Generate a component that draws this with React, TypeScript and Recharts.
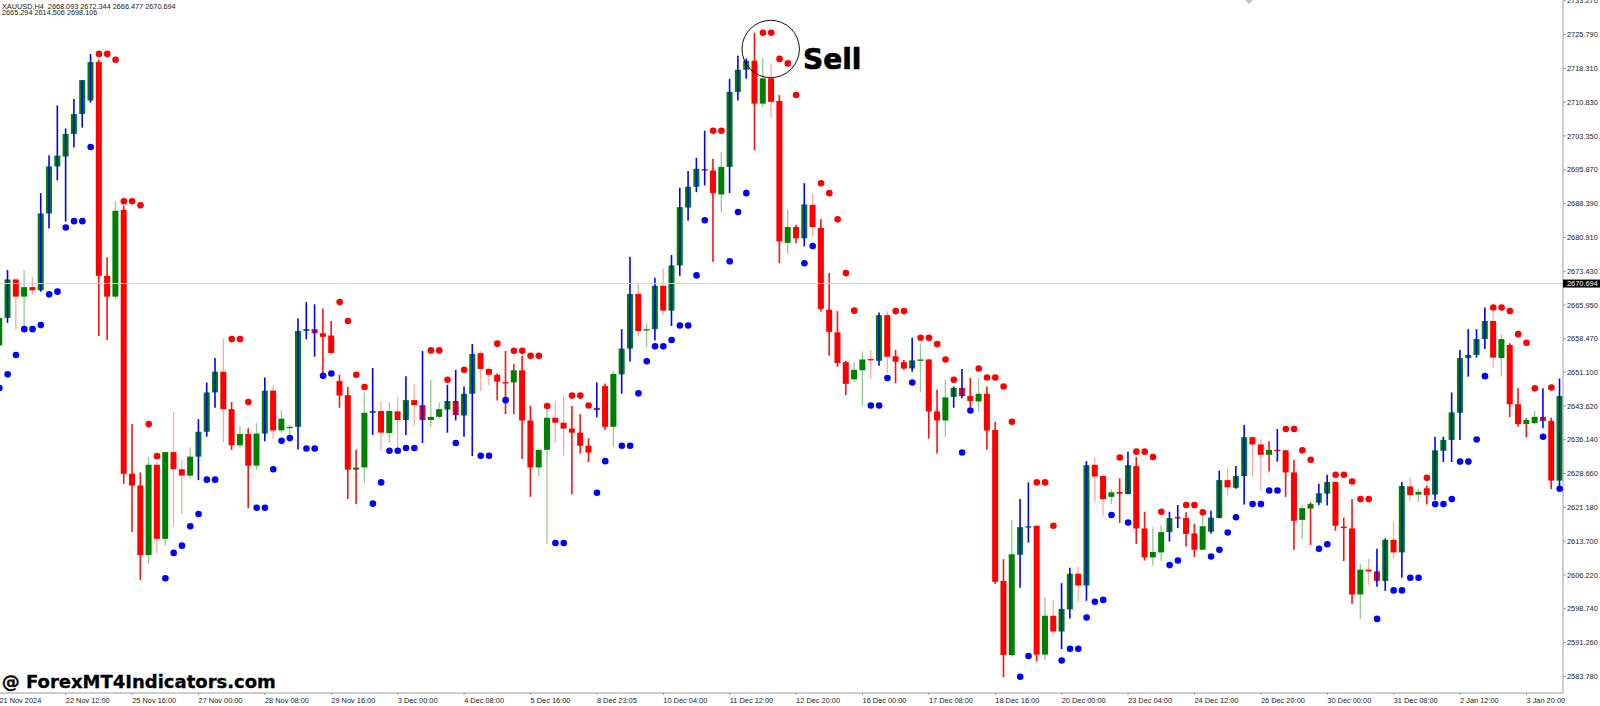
import { Bar, ComposedChart, Line, ReferenceLine, XAxis, YAxis } from 'recharts'

const _ = null

const opens = [
  2657.0, 2663.1, 2671.6, 2667.8, 2669.9, 2669.2, 2686.2, 2696.6, 2698.8, 2703.8,
  2708.2, 2711.2, 2719.7, 2672.4, 2667.8, 2687.0, 2628.6, 2626.0, 2610.6, 2630.6,
  2614.2, 2633.4, 2629.6, 2628.2, 2632.4, 2637.9, 2646.6, 2651.2, 2642.9, 2634.9,
  2637.4, 2630.4, 2637.5, 2647.0, 2638.2, 2638.8, 2639.0, 2660.2, 2660.6, 2659.7,
  2659.2, 2649.1, 2646.0, 2629.5, 2630.0, 2642.1, 2642.5, 2637.6, 2642.4, 2640.5,
  2644.9, 2643.8, 2640.5, 2641.2, 2642.8, 2644.7, 2641.5, 2646.3, 2655.3, 2651.8,
  2650.5, 2648.9, 2648.8, 2651.5, 2640.4, 2630.0, 2633.9, 2641.0, 2639.9, 2638.6,
  2637.7, 2634.8, 2643.2, 2648.0, 2639.0, 2650.6, 2656.3, 2668.4, 2660.3, 2660.6,
  2670.2, 2664.7, 2674.7, 2687.5, 2692.1, 2696.0, 2695.7, 2690.4, 2696.5, 2713.1,
  2718.0, 2720.0, 2710.5, 2716.1, 2711.1, 2679.7, 2683.2, 2680.7, 2688.1, 2683.0,
  2664.9, 2659.9, 2653.3, 2649.5, 2651.5, 2654.0, 2653.6, 2663.7, 2654.6, 2653.3,
  2651.9, 2653.7, 2653.9, 2642.4, 2640.4, 2645.6, 2647.6, 2645.8, 2644.6, 2646.3,
  2638.3, 2604.9, 2588.5, 2610.7, 2616.7, 2617.1, 2588.6, 2597.2, 2593.7, 2598.6,
  2606.5, 2603.9, 2630.6, 2628.1, 2623.5, 2624.6, 2624.1, 2630.3, 2616.5, 2610.1,
  2611.2, 2615.7, 2619.0, 2618.8, 2615.4, 2611.8, 2615.8, 2618.8, 2627.2, 2625.5,
  2628.1, 2636.7, 2635.1, 2632.8, 2633.9, 2633.8, 2628.9, 2618.4, 2620.9, 2622.2,
  2624.2, 2626.8, 2616.9, 2616.5, 2601.9, 2607.4, 2607.0, 2604.9, 2614.0, 2611.2,
  2625.8, 2624.0, 2625.4, 2624.0, 2633.7, 2636.1, 2642.1, 2654.2, 2654.9, 2658.4,
  2662.4, 2654.2, 2657.1, 2644.0, 2639.6, 2639.8, 2641.2, 2640.3, 2627.1,
]

const highs = [
  2664.9, 2673.7, 2671.9, 2673.7, 2672.1, 2690.7, 2699.1, 2710.1, 2705.0, 2711.5,
  2715.7, 2721.5, 2720.2, 2676.5, 2688.9, 2687.9, 2639.6, 2628.9, 2632.4, 2631.2,
  2633.5, 2642.2, 2631.6, 2634.4, 2640.7, 2648.8, 2654.2, 2658.4, 2644.5, 2639.2,
  2638.7, 2639.8, 2649.9, 2648.2, 2642.7, 2639.4, 2663.0, 2666.6, 2666.1, 2665.2,
  2662.4, 2650.5, 2647.8, 2633.9, 2646.6, 2652.0, 2644.7, 2644.4, 2645.6, 2650.2,
  2648.3, 2655.8, 2649.4, 2644.4, 2648.3, 2651.6, 2647.9, 2657.3, 2655.8, 2652.2,
  2650.8, 2655.8, 2652.9, 2654.7, 2643.6, 2633.9, 2642.7, 2644.7, 2645.8, 2643.6,
  2641.8, 2636.5, 2648.8, 2648.6, 2651.3, 2660.6, 2676.6, 2670.8, 2661.9, 2672.0,
  2674.0, 2677.0, 2691.9, 2695.6, 2698.5, 2704.5, 2698.3, 2699.8, 2716.0, 2721.1,
  2720.5, 2726.2, 2720.5, 2719.4, 2712.4, 2687.1, 2683.7, 2692.9, 2690.7, 2684.9,
  2673.0, 2664.6, 2653.6, 2653.3, 2655.7, 2656.0, 2664.3, 2664.5, 2656.0, 2653.8,
  2658.7, 2657.3, 2653.9, 2647.2, 2649.4, 2647.9, 2651.8, 2649.8, 2649.8, 2647.9,
  2640.1, 2609.7, 2618.4, 2623.0, 2626.7, 2617.1, 2601.3, 2600.7, 2604.4, 2607.8,
  2608.1, 2631.4, 2632.2, 2628.3, 2625.2, 2627.6, 2633.5, 2632.3, 2620.2, 2616.8,
  2617.3, 2620.2, 2621.7, 2620.1, 2617.5, 2619.9, 2620.4, 2629.3, 2629.8, 2630.3,
  2639.4, 2637.0, 2636.3, 2635.8, 2638.5, 2633.8, 2631.7, 2621.7, 2622.3, 2626.4,
  2628.4, 2626.8, 2618.9, 2623.0, 2608.7, 2609.8, 2612.0, 2614.3, 2618.0, 2626.8,
  2627.7, 2625.2, 2626.0, 2636.8, 2636.8, 2646.6, 2656.0, 2660.6, 2660.6, 2665.4,
  2664.5, 2659.5, 2657.5, 2647.5, 2640.9, 2642.5, 2647.5, 2641.0, 2649.7,
]

const lows = [
  2654.7, 2662.0, 2660.4, 2660.9, 2668.2, 2668.9, 2682.9, 2693.5, 2684.4, 2700.8,
  2705.2, 2710.7, 2659.1, 2658.2, 2667.2, 2626.4, 2615.8, 2605.1, 2608.7, 2611.0,
  2612.7, 2616.9, 2619.7, 2627.5, 2627.2, 2636.8, 2643.2, 2635.6, 2633.9, 2634.4,
  2621.0, 2629.5, 2635.8, 2636.3, 2637.7, 2636.8, 2634.0, 2658.4, 2654.5, 2650.3,
  2655.3, 2643.2, 2623.0, 2621.9, 2626.6, 2637.2, 2633.7, 2635.5, 2634.3, 2637.2,
  2639.3, 2635.4, 2639.0, 2640.8, 2637.7, 2640.4, 2636.8, 2632.5, 2646.9, 2648.2,
  2644.8, 2641.8, 2641.8, 2631.9, 2623.5, 2628.1, 2613.1, 2635.4, 2632.6, 2624.1,
  2633.1, 2631.2, 2641.1, 2638.3, 2634.6, 2646.3, 2653.4, 2658.9, 2656.7, 2658.1,
  2663.7, 2661.3, 2672.4, 2684.6, 2690.9, 2692.4, 2675.5, 2686.4, 2690.7, 2711.2,
  2716.0, 2700.2, 2709.7, 2707.3, 2675.2, 2677.4, 2679.6, 2678.9, 2681.1, 2664.5,
  2654.7, 2652.3, 2646.0, 2648.9, 2643.6, 2649.7, 2652.5, 2650.8, 2648.6, 2651.6,
  2651.2, 2646.6, 2636.4, 2633.1, 2636.8, 2643.2, 2645.3, 2643.3, 2642.3, 2633.9,
  2604.2, 2583.6, 2588.1, 2603.4, 2613.4, 2587.1, 2587.4, 2592.6, 2589.8, 2596.6,
  2600.2, 2600.5, 2622.3, 2619.4, 2621.9, 2617.7, 2624.1, 2613.1, 2609.4, 2608.3,
  2609.3, 2613.6, 2616.6, 2612.5, 2610.2, 2611.8, 2615.4, 2618.8, 2623.7, 2625.3,
  2621.8, 2628.0, 2624.8, 2629.1, 2631.3, 2623.5, 2611.8, 2614.2, 2612.8, 2621.7,
  2621.6, 2616.0, 2609.3, 2599.8, 2596.5, 2604.1, 2603.6, 2602.7, 2609.9, 2605.6,
  2622.4, 2622.4, 2621.8, 2622.8, 2631.2, 2631.2, 2636.1, 2650.1, 2654.3, 2656.2,
  2652.0, 2650.1, 2641.1, 2639.0, 2636.7, 2639.6, 2638.7, 2625.2, 2625.2,
]

const closes = [
  2663.1, 2671.6, 2667.8, 2669.9, 2669.2, 2686.2, 2696.6, 2699.0, 2703.8, 2708.2,
  2715.7, 2719.7, 2672.4, 2667.8, 2686.8, 2628.6, 2626.0, 2610.6, 2630.6, 2614.2,
  2633.4, 2629.6, 2628.2, 2632.4, 2637.9, 2646.6, 2651.2, 2642.9, 2634.9, 2637.4,
  2630.4, 2637.5, 2647.0, 2638.2, 2640.8, 2639.0, 2660.2, 2660.6, 2659.7, 2658.9,
  2655.3, 2645.9, 2629.5, 2630.0, 2642.1, 2642.5, 2637.7, 2642.5, 2640.5, 2644.9,
  2643.8, 2640.5, 2641.2, 2642.9, 2644.7, 2641.6, 2646.3, 2655.1, 2651.8, 2650.5,
  2649.0, 2648.7, 2651.5, 2640.4, 2630.0, 2633.9, 2641.0, 2639.9, 2638.6, 2637.7,
  2634.8, 2633.3, 2642.7, 2639.0, 2650.7, 2656.3, 2668.4, 2660.2, 2660.6, 2670.2,
  2664.7, 2674.7, 2687.6, 2692.1, 2696.1, 2695.7, 2690.7, 2696.5, 2713.1, 2718.0,
  2720.0, 2710.5, 2716.1, 2710.9, 2680.0, 2683.2, 2680.7, 2688.2, 2683.2, 2665.1,
  2660.0, 2653.1, 2648.5, 2651.6, 2653.9, 2653.8, 2663.7, 2654.5, 2653.4, 2651.9,
  2653.7, 2653.9, 2642.4, 2640.4, 2645.5, 2647.6, 2645.8, 2644.7, 2646.3, 2638.2,
  2604.7, 2588.5, 2610.8, 2616.8, 2617.0, 2588.6, 2597.2, 2593.7, 2598.7, 2606.5,
  2603.9, 2630.5, 2628.0, 2623.0, 2624.5, 2624.2, 2630.5, 2616.5, 2610.1, 2611.3,
  2615.7, 2618.8, 2618.7, 2615.3, 2611.8, 2617.0, 2618.9, 2627.2, 2625.6, 2628.1,
  2636.7, 2635.1, 2632.8, 2633.9, 2633.7, 2628.9, 2618.2, 2621.0, 2621.9, 2624.3,
  2626.8, 2617.1, 2616.6, 2601.9, 2607.4, 2607.0, 2604.9, 2614.0, 2611.2, 2625.9,
  2623.9, 2624.6, 2623.9, 2633.8, 2636.1, 2642.2, 2654.2, 2654.9, 2658.4, 2662.4,
  2654.3, 2658.4, 2644.0, 2639.6, 2640.5, 2641.2, 2640.3, 2627.1, 2645.8,
]

// wick colour per candle: b blue, g pale green, r red, p pale red
const wickKinds = [
  'b', 'b', 'p', 'g', 'p', 'b', 'b', 'b', 'b', 'b',
  'b', 'b', 'r', 'r', 'g', 'r', 'r', 'r', 'g', 'p',
  'g', 'p', 'p', 'g', 'b', 'b', 'b', 'p', 'r', 'g',
  'r', 'g', 'b', 'p', 'g', 'g', 'b', 'b', 'b', 'r',
  'r', 'r', 'r', 'r', 'g', 'b', 'p', 'g', 'p', 'b',
  'p', 'b', 'g', 'g', 'b', 'b', 'b', 'b', 'p', 'p',
  'r', 'r', 'r', 'r', 'r', 'g', 'g', 'p', 'p', 'r',
  'r', 'r', 'b', 'r', 'g', 'b', 'b', 'p', 'g', 'b',
  'p', 'b', 'b', 'b', 'b', 'b', 'r', 'g', 'b', 'b',
  'b', 'r', 'g', 'p', 'r', 'g', 'r', 'b', 'p', 'r',
  'r', 'r', 'r', 'g', 'g', 'p', 'b', 'p', 'r', 'r',
  'b', 'g', 'r', 'r', 'g', 'b', 'b', 'r', 'g', 'r',
  'r', 'r', 'g', 'b', 'b', 'r', 'g', 'p', 'b', 'b',
  'p', 'b', 'p', 'p', 'g', 'r', 'b', 'r', 'r', 'g',
  'g', 'b', 'b', 'r', 'r', 'g', 'b', 'b', 'p', 'b',
  'b', 'p', 'p', 'r', 'b', 'r', 'r', 'g', 'r', 'b',
  'b', 'r', 'r', 'r', 'g', 'p', 'b', 'b', 'p', 'b',
  'p', 'g', 'r', 'b', 'b', 'b', 'b', 'b', 'b', 'b',
  'p', 'g', 'r', 'r', 'r', 'g', 'b', 'r', 'b',
]

const blueDots = [
  2647.6, 2650.6, 2654.9, 2660.6, 2660.6, 2661.5, 2668.3, 2668.9, 2683.1, 2684.5,
  2684.5, 2700.9, _, _, _, _, _, _, _, _,
  2605.5, 2611.1, 2612.7, 2617.0, 2619.7, 2627.3, 2627.3, _, _, _,
  _, 2621.1, 2621.1, 2629.6, 2635.9, 2636.5, _, 2634.2, 2634.2, 2650.3,
  2650.8, _, _, _, _, 2622.0, 2626.7, 2633.7, 2633.7, 2634.3,
  2634.3, _, _, _, _, 2635.4, _, _, 2632.6, 2632.6,
  _, 2644.9, _, _, _, _, _, 2613.3, 2613.3, _,
  _, _, 2624.4, 2631.4, _, 2634.8, 2634.8, 2646.4, 2653.5, 2656.8,
  2656.8, 2658.2, 2661.4, 2661.4, 2672.5, 2684.7, _, _, 2675.6, 2686.5,
  2690.7, _, _, _, _, _, _, 2675.2, 2679.0, _,
  _, _, _, _, _, 2643.7, 2643.7, 2649.8, _, _,
  2648.8, _, _, _, _, _, 2633.3, 2642.6, _, _,
  _, _, _, 2583.7, 2588.3, _, _, _, 2587.3, 2589.9,
  2589.9, 2596.8, 2600.3, 2600.7, 2619.5, _, 2617.8, _, _, _,
  _, 2608.4, 2609.4, _, _, _, 2610.3, 2611.8, 2615.6, 2619.0,
  _, 2621.9, 2621.9, 2624.9, 2624.9, _, _, _, _, 2612.0,
  2613.0, _, _, _, _, _, 2596.5, _, 2602.8, 2602.8,
  2605.6, 2605.6, _, 2621.9, 2621.9, 2623.0, 2631.3, 2631.3, 2636.2, 2650.2,
  _, _, _, _, _, _, 2636.8, _, 2625.3,
]

const redDots = [
  _, _, _, _, _, _, _, _, _, _,
  _, _, 2721.5, 2721.5, 2720.2, 2688.9, 2688.9, 2688.0, 2639.6, 2632.5,
  _, _, _, _, _, _, _, _, 2658.4, 2658.4,
  2644.5, _, _, _, _, _, _, _, _, _,
  _, 2666.6, 2662.4, 2650.5, 2647.8, _, _, _, _, _,
  _, _, 2655.9, 2655.9, 2649.4, _, 2651.6, _, _, _,
  2657.4, _, 2655.8, 2655.8, 2654.7, 2654.7, 2643.6, _, _, 2645.9,
  2645.9, 2643.7, _, _, _, _, _, _, _, _,
  _, _, _, _, _, _, 2704.5, 2704.5, _, _,
  _, _, 2726.2, 2726.2, 2720.4, 2719.4, 2712.4, _, _, 2692.9,
  2690.7, 2684.9, 2673.0, 2664.7, _, _, _, _, 2664.6, 2664.6,
  _, 2658.7, 2658.7, 2657.3, 2653.9, 2649.4, _, _, 2651.9, 2649.9,
  2649.9, 2647.9, 2640.1, _, _, 2626.7, 2626.7, 2617.1, _, _,
  _, _, _, _, _, 2632.2, _, 2633.5, 2633.5, 2632.3,
  2620.2, _, _, 2621.7, 2621.7, 2620.1, _, _, _, _,
  _, _, _, _, _, 2638.5, 2638.5, 2633.8, 2631.7, _,
  _, 2628.4, 2628.4, 2626.9, 2623.0, 2623.0, _, _, _, _,
  _, _, 2627.7, _, _, _, _, _, _, _,
  2665.4, 2665.4, 2664.6, 2659.5, 2657.6, 2647.5, _, 2647.7, _,
]

const timeLabels = [
  '21 Nov 2024', '22 Nov 12:00', '25 Nov 16:00', '27 Nov 00:00', '28 Nov 08:00', '29 Nov 16:00',
  '3 Dec 00:00', '4 Dec 08:00', '5 Dec 16:00', '8 Dec 23:05', '10 Dec 04:00', '11 Dec 12:00',
  '12 Dec 20:00', '16 Dec 00:00', '17 Dec 08:00', '18 Dec 16:00', '20 Dec 00:00', '23 Dec 04:00',
  '24 Dec 12:00', '26 Dec 20:00', '30 Dec 00:00', '31 Dec 08:00', '2 Jan 12:00', '3 Jan 20:00',
]
const barsPerLabel = 8

const priceTicks = [
  2733.27, 2725.79, 2718.31, 2710.83, 2703.35, 2695.87, 2688.39, 2680.91, 2673.43, 2665.95, 2658.47,
  2651.1, 2643.62, 2636.14, 2628.66, 2621.18, 2613.7, 2606.22, 2598.74, 2591.26, 2583.78,
]
const lastPrice = 2670.694

const data = opens.map((open, i) => ({
  i,
  open,
  high: highs[i],
  low: lows[i],
  close: closes[i],
  range: [lows[i], highs[i]],
  wick: wickKinds[i],
  blue: blueDots[i],
  red: redDots[i],
}))

const WICK_COLORS: Record<string, string> = { b: '#0000ff', g: '#93c993', r: '#ff1010', p: '#ffa8a8' }
const FONT = '"Liberation Sans", Arial, sans-serif'
const AXIS_COLOR = '#9c9c9c'

function Candle(props: any) {
  const { x, y, width, height, payload } = props
  const { open, high, low, close, wick } = payload
  const cx = x + width / 2
  const perUnit = height / (high - low)
  const top = y + (high - Math.max(open, close)) * perUnit
  const bodyH = Math.max(Math.abs(open - close) * perUnit, 1.4)
  const wickLine = (
    <line
      x1={cx}
      x2={cx}
      y1={y}
      y2={y + height}
      stroke={WICK_COLORS[wick]}
      strokeWidth={wick === 'b' || wick === 'r' ? 1.6 : 1.3}
    />
  )
  return (
    <g>
      {wick !== 'b' && wickLine}
      <rect x={x} y={top} width={width} height={bodyH} fill={close >= open ? '#008000' : '#ff0000'} />
      {wick === 'b' && wickLine}
    </g>
  )
}

function TimeTick(props: any) {
  const { x, y, payload } = props
  return (
    <text x={x} y={y + 7.5} fontSize={7.4} fontFamily={FONT} fill="#222">
      {timeLabels[payload.value / barsPerLabel]}
    </text>
  )
}

function PriceTick(props: any) {
  const { x, y, payload } = props
  if (payload.value === lastPrice) {
    return (
      <g>
        <rect x={x - 3} y={y - 4} width={37} height={8} fill="#000" />
        <text x={x + 1} y={y + 2.7} fontSize={7.4} fontFamily={FONT} fill="#fff">
          {payload.value.toFixed(3)}
        </text>
      </g>
    )
  }
  return (
    <text x={x + 1} y={y + 2.7} fontSize={7.4} fontFamily={FONT} fill="#222">
      {payload.value.toFixed(3)}
    </text>
  )
}

export default function App() {
  const xTicks = timeLabels.map((_label, i) => i * barsPerLabel)
  const yTicks = [...priceTicks, lastPrice]
  return (
    <div style={{ position: 'absolute', left: 0, top: 0, width: 1600, height: 706, overflow: 'hidden', background: '#fff' }}>
      <ComposedChart width={1600} height={706} data={data} margin={{ top: 0, right: 0, bottom: 0, left: -0.63 }}>
        <XAxis
          dataKey="i"
          type="number"
          domain={[0, 188.4]}
          ticks={xTicks}
          interval={0}
          height={13}
          tickSize={2}
          tickMargin={0}
          stroke={AXIS_COLOR}
          tick={<TimeTick />}
          allowDataOverflow
        />
        <YAxis
          orientation="right"
          domain={[2580.1, 2733.43]}
          ticks={yTicks}
          interval={0}
          width={37}
          tickSize={3}
          tickMargin={0}
          stroke={AXIS_COLOR}
          tick={<PriceTick />}
          allowDataOverflow
        />
        <ReferenceLine y={lastPrice} stroke="#d8d8d8" strokeWidth={1} />
        <Bar dataKey="range" barSize={6} shape={<Candle />} isAnimationActive={false} />
        <Line
          dataKey="blue"
          stroke="none"
          dot={{ r: 3.3, fill: '#0000ff', stroke: 'none' }}
          activeDot={false}
          isAnimationActive={false}
        />
        <Line
          dataKey="red"
          stroke="none"
          dot={{ r: 3.3, fill: '#ff0000', stroke: 'none' }}
          activeDot={false}
          isAnimationActive={false}
        />
      </ComposedChart>
      <svg width={1600} height={706} style={{ position: 'absolute', left: 0, top: 0, pointerEvents: 'none' }}>
        <text x={2} y={8.5} fontSize={7.3} fontFamily={FONT} fill="#222" xmlSpace="preserve">
          XAUUSD,H4  2668.093 2672.344 2666.477 2670.694
        </text>
        <text x={2} y={15.2} fontSize={7.3} fontFamily={FONT} fill="#222">
          2665.294 2614.506 2698.106
        </text>
        <polygon points="1245,0 1253,0 1249,4" fill="#c4c4c4" />
        <circle cx={770.7} cy={49} r={28.7} fill="none" stroke="#111" strokeWidth={1} />
        <text x={803} y={69.3} fontSize={28} fontWeight={700} fontFamily='"DejaVu Sans", sans-serif' fill="#000" stroke="#000" strokeWidth={0.7}>
          Sell
        </text>
        <text x={1.7} y={688.3} fontSize={18} fontWeight={700} fontFamily='"DejaVu Sans", sans-serif' fill="#000" stroke="#000" strokeWidth={0.3}>
          @ ForexMT4Indicators.com
        </text>
      </svg>
    </div>
  )
}
